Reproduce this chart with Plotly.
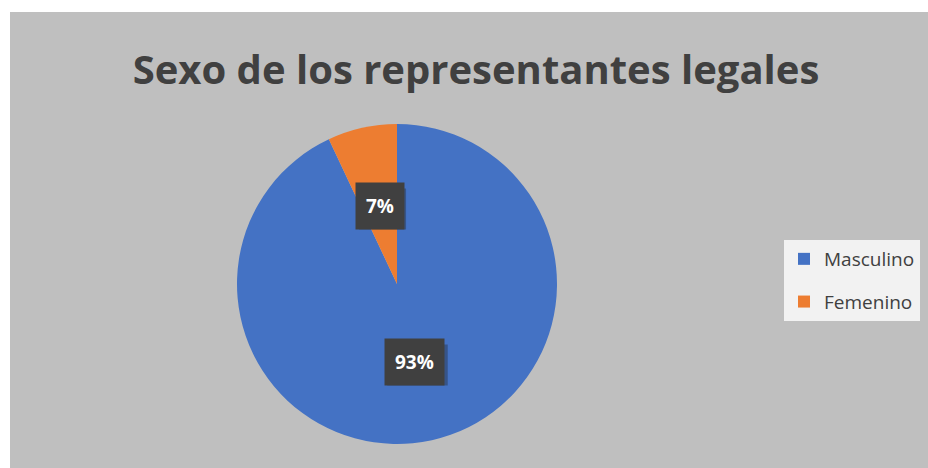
import math
import plotly.graph_objects as go

# ---- data ----
categories = ["Masculino", "Femenino"]
values = [93, 7]
colors = ["#4472C4", "#ED7D31"]
title_text = "Sexo de los representantes legales"

W, H = 928, 468
# pie geometry (pixels)
CX, CY, R = 397, 284, 160

fig = go.Figure()
fig.add_trace(go.Pie(
    labels=categories, values=values, sort=False, direction="clockwise",
    rotation=0, marker=dict(colors=colors, line=dict(width=0)),
    textinfo="none", hoverinfo="label+percent", showlegend=False,
    domain=dict(x=[(CX - R) / W, (CX + R) / W], y=[1 - (CY + R) / H, 1 - (CY - R) / H]),
))

# legend via dummy traces (for spacing control)
for c, col in zip(categories, colors):
    fig.add_trace(go.Scatter(
        x=[None], y=[None], mode="markers", name=c, legendgroup=c,
        marker=dict(symbol="square", size=14, color=col),
    ))

# percentage labels derived from values
total = sum(values)
cum = 0
for v in values:
    mid = (cum + v / 2) / total * 2 * math.pi
    cum += v
    rr = 0.5 * R
    px = CX + rr * math.sin(mid)
    py = CY - rr * math.cos(mid)
    txt = f"{round(v / total * 100)}%"
    bw = 13.5 * len(txt) + 20
    bh = 41
    # drop shadow (shape)
    fig.add_shape(type="rect", xref="paper", yref="paper", layer="above",
                  x0=(px - bw / 2 + 3) / W, x1=(px + bw / 2 + 3) / W,
                  y0=1 - (py + bh / 2 + 3) / H, y1=1 - (py - bh / 2 + 3) / H,
                  fillcolor="rgba(30,30,30,0.35)", line=dict(width=0))
    fig.add_annotation(x=px / W, y=1 - py / H, xref="paper", yref="paper",
                       showarrow=False, xanchor="center", yanchor="middle", borderpad=10,
                       text=f"<b>{txt}</b>",
                       font=dict(family="Open Sans", size=19, color="white"),
                       bgcolor="#404040")

fig.add_shape(type="rect", xref="paper", yref="paper", x0=10 / W, x1=1, y0=0, y1=1 - 12 / H,
              fillcolor="#BFBFBF", line=dict(width=0), layer="below")

fig.update_layout(
    width=W, height=H, margin=dict(l=0, r=0, t=0, b=0),
    paper_bgcolor="white", plot_bgcolor="rgba(0,0,0,0)",
    title=dict(text=f"<b>{title_text}</b>", x=476 / W, xanchor="center", y=1 - 70 / H, yanchor="middle",
               font=dict(family="Open Sans", size=40, color="#404040")),
    xaxis=dict(visible=False, domain=[0.9, 0.91]), yaxis=dict(visible=False, domain=[0.9, 0.91]),
    legend=dict(x=784 / W, y=1 - 240 / H, xanchor="left", yanchor="top",
                bgcolor="#F2F2F2", borderwidth=0, tracegroupgap=15,
                font=dict(family="Open Sans", size=19, color="#404040"), itemsizing="constant"),
    showlegend=True,
)

fig.write_html("out.html", config={"displayModeBar": False},
               post_script="document.body.style.margin='0';document.body.style.overflow='hidden';")
